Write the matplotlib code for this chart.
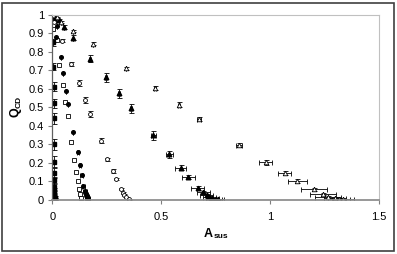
import matplotlib
matplotlib.use('Agg')
import matplotlib.pyplot as plt
from matplotlib.patches import Rectangle

plt.rcParams['font.family'] = ['Liberation Sans', 'DejaVu Sans']

# filled squares (near x = 0)
sq_x = [0.003, 0.004, 0.005, 0.005, 0.006, 0.006, 0.007, 0.007, 0.008, 0.008,
        0.009, 0.009, 0.010, 0.010, 0.010, 0.011, 0.011]
sq_y = [1.0, 0.985, 0.85, 0.72, 0.61, 0.52, 0.44, 0.30, 0.205, 0.145,
        0.105, 0.07, 0.05, 0.035, 0.02, 0.01, 0.004]
sq_yerr = [0.01, 0.01, 0.02, 0.02, 0.025, 0.025, 0.03, 0.03, 0.03, 0.025,
           0.02, 0.02, 0.015, 0.01, 0.01, 0.01, 0.005]

# filled circles
dot_x = [0.003, 0.010, 0.020, 0.017, 0.038, 0.050, 0.062, 0.072, 0.097, 0.117,
         0.127, 0.136, 0.143, 0.150, 0.155, 0.158, 0.162, 0.165]
dot_y = [1.0, 0.97, 0.94, 0.88, 0.773, 0.683, 0.59, 0.515, 0.365, 0.26,
         0.187, 0.133, 0.074, 0.045, 0.03, 0.02, 0.01, 0.004]
dot_xerr = [0, 0, 0, 0, 0, 0, 0, 0, 0, 0.005,
            0.006, 0.007, 0.008, 0.008, 0.01, 0.01, 0.01, 0.01]

# open squares
osq_x = [0.003, 0.005, 0.020, 0.030, 0.048, 0.060, 0.070, 0.087, 0.100, 0.109,
         0.116, 0.124, 0.127, 0.130]
osq_y = [0.97, 0.925, 0.863, 0.73, 0.62, 0.53, 0.45, 0.31, 0.215, 0.148,
         0.103, 0.058, 0.031, 0.01]

# open circles
oc_x = [0.010, 0.046, 0.084, 0.121, 0.150, 0.173, 0.222, 0.252, 0.277, 0.292,
        0.314, 0.325, 0.330, 0.340, 0.350]
oc_y = [0.96, 0.86, 0.735, 0.63, 0.54, 0.463, 0.32, 0.218, 0.157, 0.112,
        0.058, 0.037, 0.025, 0.012, 0.003]
oc_yerr = [0.005, 0.01, 0.01, 0.015, 0.015, 0.015, 0.015, 0.01, 0.01, 0.005,
           0.005, 0.005, 0.005, 0.003, 0.003]

# filled triangles
tri_x = [0.010, 0.030, 0.052, 0.093, 0.173, 0.246, 0.307, 0.360, 0.464, 0.537,
         0.589, 0.624, 0.667, 0.693, 0.710, 0.720, 0.735, 0.750, 0.760]
tri_y = [0.99, 0.97, 0.935, 0.876, 0.762, 0.662, 0.575, 0.494, 0.348, 0.245,
         0.173, 0.124, 0.065, 0.04, 0.025, 0.015, 0.008, 0.004, 0.002]
tri_xerr = [0, 0, 0, 0, 0.005, 0.005, 0.005, 0.005, 0.01, 0.015,
            0.025, 0.03, 0.03, 0.03, 0.03, 0.03, 0.03, 0.03, 0.03]
tri_yerr = [0.005, 0.005, 0.01, 0.015, 0.02, 0.025, 0.025, 0.025, 0.025, 0.02,
            0.015, 0.01, 0.01, 0.005, 0.005, 0.005, 0.003, 0.003, 0.003]

# open triangles
otri_x = [0.005, 0.020, 0.040, 0.096, 0.188, 0.338, 0.471, 0.580, 0.675, 0.857,
          0.980, 1.067, 1.125, 1.200, 1.243, 1.266, 1.297, 1.315, 1.333]
otri_y = [1.0, 0.985, 0.962, 0.914, 0.842, 0.71, 0.605, 0.514, 0.436, 0.296,
          0.202, 0.143, 0.101, 0.056, 0.031, 0.016, 0.008, 0.004, 0.002]
otri_xerr = [0, 0, 0, 0, 0, 0, 0.005, 0.005, 0.01, 0.015,
             0.03, 0.03, 0.045, 0.06, 0.06, 0.06, 0.05, 0.05, 0.05]
otri_yerr = [0.003, 0.003, 0.005, 0.005, 0.008, 0.01, 0.012, 0.012, 0.012, 0.012,
             0.012, 0.01, 0.01, 0.008, 0.006, 0.005, 0.004, 0.003, 0.003]

x_ticks = [0, 0.5, 1, 1.5]
y_ticks = [0, 0.1, 0.2, 0.3, 0.4, 0.5, 0.6, 0.7, 0.8, 0.9, 1]

fig = plt.figure(figsize=(3.97, 2.54), dpi=100)
ax = fig.add_axes([52.3 / 397, 54.3 / 254, 326.7 / 397, 185 / 254])

eb = dict(ecolor='black', elinewidth=0.6, capsize=1.8, capthick=0.6, ls='none')
ax.errorbar(sq_x, sq_y, yerr=sq_yerr, fmt='s', ms=2.8, mfc='black', mec='black', **eb)
ax.errorbar(dot_x, dot_y, xerr=dot_xerr, fmt='o', ms=2.6, mfc='black', mec='black', **eb)
ax.plot(osq_x, osq_y, 's', ms=3, mfc='white', mec='black', mew=0.6, ls='none')
ax.errorbar(oc_x, oc_y, yerr=oc_yerr, fmt='o', ms=2.8, mfc='white', mec='black', mew=0.6, **eb)
ax.errorbar(tri_x, tri_y, xerr=tri_xerr, yerr=tri_yerr, fmt='^', ms=3.3,
            mfc='black', mec='black', **eb)
ax.errorbar(otri_x, otri_y, xerr=otri_xerr, yerr=otri_yerr, fmt='^', ms=3.3,
            mfc='white', mec='black', mew=0.6, **eb)

ax.set_xlim(0, 1.5)
ax.set_ylim(0, 1)
ax.set_xticks(x_ticks)
ax.set_yticks(y_ticks)
ax.set_xticklabels(['%g' % v for v in x_ticks])
ax.set_yticklabels(['%g' % v for v in y_ticks])
ax.tick_params(axis='both', labelsize=8, direction='out', length=3, width=0.8,
               color='#808080', pad=3)
ax.tick_params(axis='x', pad=6)

for side in ['top', 'right']:
    ax.spines[side].set_color('#c0c0c0')
    ax.spines[side].set_linewidth(0.8)
ax.spines['left'].set_color('#606060')
ax.spines['bottom'].set_color('#909090')
ax.spines['left'].set_linewidth(0.9)
ax.spines['bottom'].set_linewidth(1.3)

# axis titles with small subscripts
fig.text(204 / 397, 1 - 234 / 254, 'A', ha='left', va='center',
         fontsize=9, fontweight='bold')
fig.text(214 / 397, 1 - 237 / 254, 'sus', ha='left', va='center',
         fontsize=6, fontweight='bold')
fig.text(16 / 397, 118 / 254 * 0 + 1 - 117 / 254, 'Q', ha='center', va='bottom',
         fontsize=9, fontweight='bold', rotation=90)
fig.text(19 / 397, 1 - 108 / 254, 'CD', ha='center', va='bottom',
         fontsize=6, fontweight='bold', rotation=90)

fig.patches.append(Rectangle((2 / 397, 3 / 254), 392 / 397, 248 / 254,
                             transform=fig.transFigure, fill=False,
                             edgecolor='#404040', linewidth=1.2))

fig.savefig('out.png', dpi=100)
